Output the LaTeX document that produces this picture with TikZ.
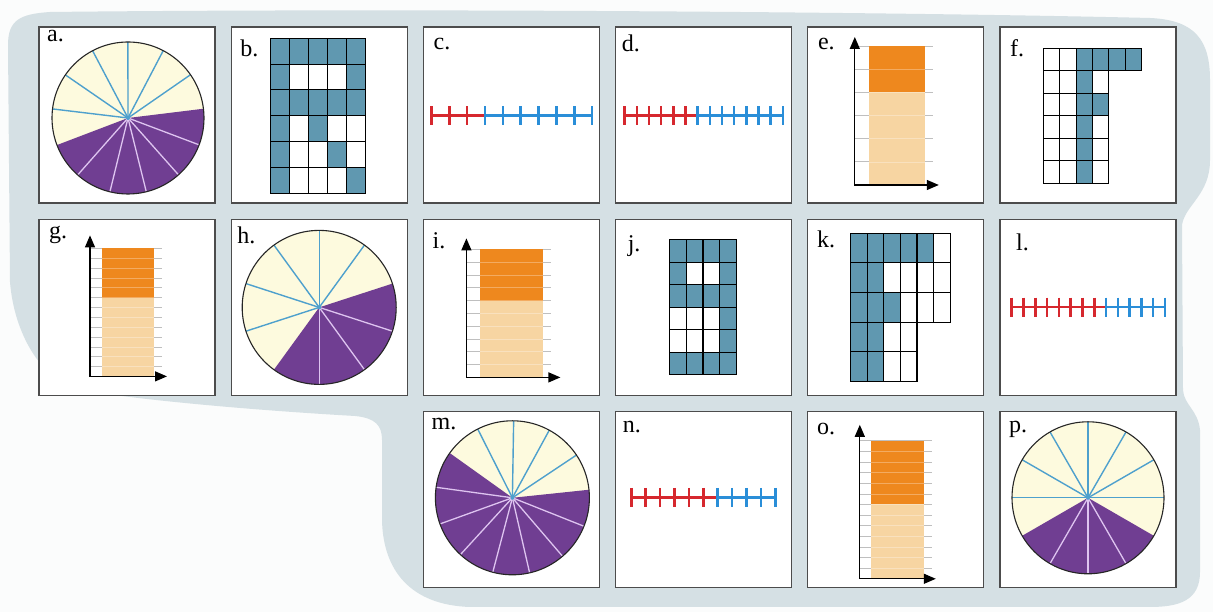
\documentclass[tikz,border=0pt]{standalone}
\usepackage{fontspec}
\setmainfont{Liberation Serif}
\usepackage{xcolor}
\usepackage{tikz}
\usetikzlibrary{arrows.meta}

\definecolor{paper}{RGB}{251,252,252}
\definecolor{blobblue}{RGB}{213,224,228}
\definecolor{cream}{RGB}{253,250,222}
\definecolor{piepurple}{RGB}{112,62,146}
\definecolor{pieline}{RGB}{78,160,205}
\definecolor{lavender}{RGB}{222,196,240}
\definecolor{steel}{RGB}{96,152,176}
\definecolor{darkorange}{RGB}{238,136,30}
\definecolor{peach}{RGB}{247,213,162}
\definecolor{tickred}{RGB}{214,40,46}
\definecolor{tickblue}{RGB}{42,142,216}
\colorlet{cell0}{white}
\colorlet{cell1}{steel}

% pie: centre x, centre y, radius, sectors, boundary angle, purple sectors
\newcommand{\pie}[6]{%
  \begin{scope}[shift={(#1,#2)}]
    \fill[cream] (0,0) circle (#3);
    \pgfmathsetmacro{\stp}{360/#4}
    \fill[piepurple] (0,0) -- (#5:#3) arc[start angle=#5, end angle={#5-#6*\stp}, radius=#3] -- cycle;
    \pgfmathtruncatemacro{\ncream}{#4-#6-1}
    \foreach \i in {1,...,\ncream} \draw[pieline, line width=1.4pt] (0,0) -- ({#5+\i*\stp}:#3);
    \pgfmathtruncatemacro{\npurp}{#6-1}
    \foreach \i in {1,...,\npurp} \draw[lavender, line width=1.3pt] (0,0) -- ({#5-\i*\stp}:#3);
    \draw[black!85, line width=1.1pt] (0,0) circle (#3);
    \fill[pieline] (0,0) circle (2);
  \end{scope}}

% bar: axis x, axis y, arrow top, arrow right, bar left, bar right, bar top, parts, dark parts
\newcommand{\barchart}[9]{%
  \pgfmathsetmacro{\bh}{(#2-#7)/#8}
  \pgfmathtruncatemacro{\nlines}{#8-1}
  \foreach \i in {0,...,\nlines} \draw[gridline] (#1,{-#7-\i*\bh}) -- ({#6+8},{-#7-\i*\bh});
  \fill[peach] (#5,-#2) rectangle (#6,-#7);
  \fill[darkorange] (#5,{-#7-#9*\bh}) rectangle (#6,-#7);
  \foreach \i in {1,...,\nlines} \draw[white, opacity=0.3, line width=0.6pt] (#5,{-#7-\i*\bh}) -- (#6,{-#7-\i*\bh});
  \draw[axis] (#1,-#3) -- (#1,-#2) -- (#4,-#2);}

% number line: left x, right x, y, parts, red parts
\newcommand{\numline}[5]{%
  \pgfmathsetmacro{\tsp}{(#2-#1)/#4}
  \draw[tickred, nl] (#1,-#3) -- ({#1+#5*\tsp},-#3);
  \draw[tickblue, nl] ({#1+#5*\tsp},-#3) -- (#2,-#3);
  \foreach \i in {0,...,#4} {
    \pgfmathsetmacro{\tkx}{#1+\i*\tsp}
    \ifnum\i<#5 \def\tkc{tickred}\else\def\tkc{tickblue}\fi
    \draw[\tkc, nl] (\tkx,{-#3+9.5}) -- (\tkx,{-#3-9.5});
  }}

% one row of cells: row index, cell values
\newcommand{\gridrow}[2]{%
  \foreach \val [count=\col from 0] in {#2}
    \draw[cell, fill=cell\val] ({\gx+\col*\gw},{-\gy-#1*\gh}) rectangle +(\gw,-\gh);}

\begin{document}
\begin{tikzpicture}[x=1pt, y=1pt, >={Triangle[length=12pt, width=10pt]},
  panel/.style={draw=black!70, line width=1.3pt, fill=white, minimum width=176pt,
    minimum height=176pt, inner sep=0pt, outer sep=0pt},
  lab/.style={anchor=base west, inner sep=0pt, font=\fontsize{24}{26}\selectfont},
  cell/.style={draw=black, line width=1.1pt},
  axis/.style={draw=black, line width=1.3pt, line join=miter, <->},
  gridline/.style={black!25, line width=0.7pt},
  nl/.style={line width=2.5pt}]
  \useasboundingbox (0,0) rectangle (1213,612);
  \fill[paper] (0,0) rectangle (1213,612);

  % backdrop
  \fill[blobblue] (8,567) .. controls (8,592) and (20,598) .. (50,600)
    .. controls (400,604) and (900,600) .. (1150,594)
    .. controls (1195,592) and (1210,572) .. (1210,532) -- (1210,452)
    .. controls (1210,417) and (1185,407) .. (1182,387) -- (1183,222)
    .. controls (1184,207) and (1198,202) .. (1200,182) -- (1200,40)
    .. controls (1200,12) and (1180,5) .. (1150,5) -- (470,5)
    .. controls (410,7) and (383,42) .. (382,92) -- (382,172)
    .. controls (382,187) and (375,194) .. (355,196)
    .. controls (250,202) and (140,212) .. (80,222)
    .. controls (40,232) and (14,280) .. (10,330) -- cycle;

  \foreach \n/\cl/\rw in {a/0/0, b/1/0, c/2/0, d/3/0, e/4/0, f/5/0,
      g/0/1, h/1/1, i/2/1, j/3/1, k/4/1, l/5/1, m/2/2, n/3/2, o/4/2, p/5/2}
    \node (p\n) [panel] at ({127+192.2*\cl},{497-192.4*\rw}) {};

  \begin{scope}[shift={(pa.north west)}]
    \pie{89}{-91}{76}{13}{7}{6}
    \node (la) [lab] at (8,-15) {a.};
  \end{scope}

  \begin{scope}[shift={(pb.north west)}]
    \def\gx{39.7}\def\gy{11.3}\def\gw{19}\def\gh{25.83}
    \gridrow{0}{1,1,1,1,1}
    \gridrow{1}{1,0,0,0,1}
    \gridrow{2}{1,1,1,1,1}
    \gridrow{3}{1,0,1,0,0}
    \gridrow{4}{1,0,0,1,0}
    \gridrow{5}{1,0,0,0,1}
    \node (lb) [lab] at (9,-30) {b.};
  \end{scope}

  \begin{scope}[shift={(pc.north west)}]
    \numline{8}{168.7}{88.7}{9}{3}
    \node (lc) [lab] at (10,-23) {c.};
  \end{scope}

  \begin{scope}[shift={(pd.north west)}]
    \numline{9}{167.3}{88.7}{13}{6}
    \node (ld) [lab] at (6,-25) {d.};
  \end{scope}

  \begin{scope}[shift={(pe.north west)}]
    \barchart{47}{158}{10}{131}{61}{117}{19}{6}{2}
    \node (le) [lab] at (10,-23) {e.};
  \end{scope}

  \begin{scope}[shift={(pf.north west)}]
    \def\gx{43.3}\def\gy{21.3}\def\gw{16.4}\def\gh{22.5}
    \gridrow{0}{0,0,1,1,1,1}
    \gridrow{1}{0,0,1,0}
    \gridrow{2}{0,0,1,1}
    \gridrow{3}{0,0,1,0}
    \gridrow{4}{0,0,1,0}
    \gridrow{5}{0,0,1,0}
    \node (lf) [lab] at (10,-30) {f.};
  \end{scope}

  \begin{scope}[shift={(pg.north west)}]
    \barchart{51}{157}{16}{128}{63}{115}{29}{13}{5}
    \node (lg) [lab] at (10,-19) {g.};
  \end{scope}

  \begin{scope}[shift={(ph.north west)}]
    \pie{88}{-88}{77}{10}{18}{4}
    \node (lh) [lab] at (6,-24) {h.};
  \end{scope}

  \begin{scope}[shift={(pi.north west)}]
    \barchart{43}{158}{19}{137}{57}{120}{30}{10}{4}
    \node (li) [lab] at (9,-29) {i.};
  \end{scope}

  \begin{scope}[shift={(pj.north west)}]
    \def\gx{54}\def\gy{20.3}\def\gw{16.7}\def\gh{22.5}
    \gridrow{0}{1,1,1,1}
    \gridrow{1}{1,0,0,1}
    \gridrow{2}{1,1,1,1}
    \gridrow{3}{0,0,0,1}
    \gridrow{4}{0,0,0,1}
    \gridrow{5}{1,1,1,1}
    \node (lj) [lab] at (12,-32) {j.};
  \end{scope}

  \begin{scope}[shift={(pk.north west)}]
    \def\gx{43}\def\gy{13.7}\def\gw{16.55}\def\gh{29.66}
    \gridrow{0}{1,1,1,1,1,0}
    \gridrow{1}{1,1,0,0,0,0}
    \gridrow{2}{1,1,1,0,0,0}
    \gridrow{3}{1,1,0,0}
    \gridrow{4}{1,1,0,0}
    \node (lk) [lab] at (9,-28) {k.};
  \end{scope}

  \begin{scope}[shift={(pl.north west)}]
    \numline{11.7}{165}{87.7}{13}{8}
    \node (ll) [lab] at (16,-31) {l.};
  \end{scope}

  \begin{scope}[shift={(pm.north west)}]
    \pie{89}{-86}{77}{13}{6}{8}
    \node (lm) [lab] at (8,-18) {m.};
  \end{scope}

  \begin{scope}[shift={(pn.north west)}]
    \numline{15.7}{159.7}{85.7}{10}{6}
    \node (ln) [lab] at (7,-21) {n.};
  \end{scope}

  \begin{scope}[shift={(po.north west)}]
    \barchart{52}{167}{13}{128}{63}{116}{29}{13}{6}
    \node (lo) [lab] at (9,-23) {o.};
  \end{scope}

  \begin{scope}[shift={(pp.north west)}]
    \pie{88}{-86}{76}{12}{-30}{4}
    \node (lp) [lab] at (9,-21) {p.};
  \end{scope}
\end{tikzpicture}
\end{document}
